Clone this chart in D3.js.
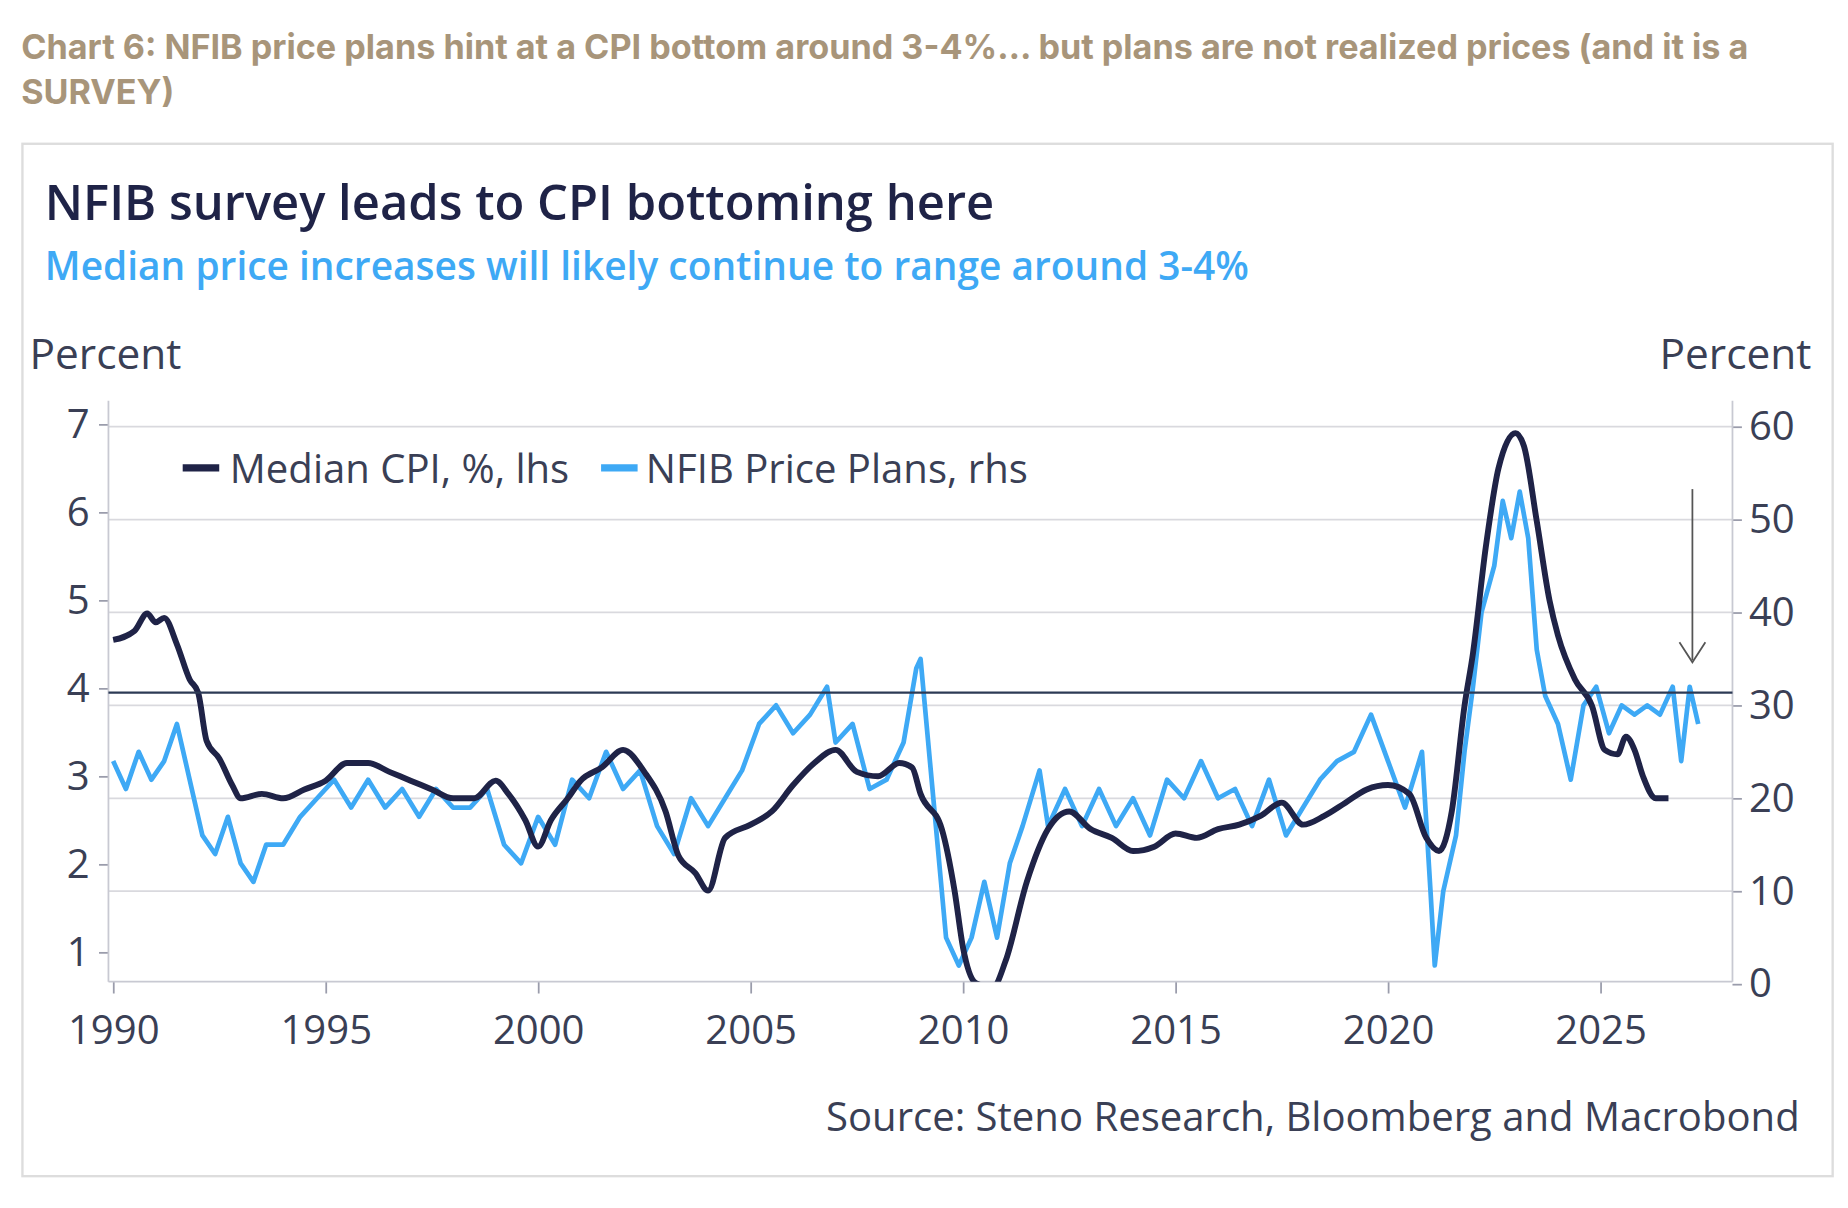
<!DOCTYPE html>
<html><head><meta charset="utf-8">
<script src="https://cdn.jsdelivr.net/npm/d3@7"></script>
<style>body{margin:0;background:#fff}</style>
</head><body>
<svg id="c" width="1848" height="1208" viewBox="0 0 1568 1025"></svg>
<script>
// Median CPI (lhs): [year, value]
var cpiYears = [1990,1990.5,1990.8,1991,1991.2,1991.5,1991.8,1992,1992.2,1992.5,1992.8,1993,1993.5,1994,1994.5,1995,1995.5,1996,1996.5,1997,1997.5,1998,1998.5,1999,1999.3,1999.7,2000,2000.3,2000.7,2001,2001.5,2002,2002.5,2003,2003.3,2003.7,2004,2004.4,2005,2005.5,2006,2006.5,2007,2007.5,2008,2008.5,2008.8,2009,2009.5,2009.8,2010,2010.3,2010.7,2011,2011.5,2012,2012.5,2013,2013.5,2014,2014.5,2015,2015.5,2016,2016.5,2017,2017.5,2018,2018.5,2019,2019.5,2020,2020.5,2020.9,2021.2,2021.5,2021.8,2022,2022.3,2022.6,2023,2023.2,2023.5,2023.8,2024,2024.4,2024.8,2025.1,2025.4,2025.6,2025.8,2026,2026.3,2026.6];
var cpiVals = [4.55,4.65,4.85,4.75,4.8,4.5,4.1,3.95,3.4,3.2,2.9,2.75,2.8,2.75,2.85,2.95,3.15,3.15,3.05,2.95,2.85,2.75,2.75,2.95,2.8,2.5,2.2,2.5,2.75,2.95,3.1,3.3,3.05,2.6,2.1,1.9,1.7,2.3,2.45,2.6,2.9,3.15,3.3,3.05,3.0,3.15,3.1,2.8,2.4,1.7,1.05,0.65,0.6,0.9,1.8,2.4,2.6,2.4,2.3,2.15,2.2,2.35,2.3,2.4,2.45,2.55,2.7,2.45,2.55,2.7,2.85,2.9,2.8,2.3,2.15,2.6,3.8,4.4,5.6,6.5,6.9,6.75,5.9,5.0,4.6,4.1,3.8,3.3,3.25,3.45,3.3,3.0,2.75,2.75];
// NFIB price plans (rhs)
var nfibYears = [1990,1990.3,1990.6,1990.9,1991.2,1991.5,1991.8,1992.1,1992.4,1992.7,1993,1993.3,1993.6,1994,1994.4,1994.8,1995.2,1995.6,1996,1996.4,1996.8,1997.2,1997.6,1998,1998.4,1998.8,1999.2,1999.6,2000,2000.4,2000.8,2001.2,2001.6,2002,2002.4,2002.8,2003.2,2003.6,2004,2004.4,2004.8,2005.2,2005.6,2006,2006.4,2006.8,2007,2007.4,2007.8,2008.2,2008.6,2008.9,2009,2009.3,2009.6,2009.9,2010.2,2010.5,2010.8,2011.1,2011.4,2011.8,2012,2012.4,2012.8,2013.2,2013.6,2014,2014.4,2014.8,2015.2,2015.6,2016,2016.4,2016.8,2017.2,2017.6,2018,2018.4,2018.8,2019.2,2019.6,2020,2020.4,2020.8,2021,2021.1,2021.3,2021.6,2021.8,2022,2022.2,2022.5,2022.7,2022.9,2023.1,2023.3,2023.5,2023.7,2024,2024.3,2024.6,2024.9,2025.2,2025.5,2025.8,2026.1,2026.4,2026.7,2026.9,2027.1,2027.3];
var nfibVals = [24,21,25,22,24,28,22,16,14,18,13,11,15,15,18,20,22,19,22,19,21,18,21,19,19,21,15,13,18,15,22,20,25,21,23,17,14,20,17,20,23,28,30,27,29,32,26,28,21,22,26,34,35,20,5,2,5,11,5,13,17,23,17,21,17,21,17,20,16,22,20,24,20,21,17,22,16,19,22,24,25,29,24,19,25,10,2,10,16,25,32,40,45,52,48,53,48,36,31,28,22,30,32,27,30,29,30,29,32,24,32,28];
var lhsTicks = [1,2,3,4,5,6,7];
var rhsTicks = [0,10,20,30,40,50,60];
var yearTicks = [1990,1995,2000,2005,2010,2015,2020,2025];

var svg = d3.select("#c");
var dark = "#1f2347", blue = "#3ea9f5", txt = "#3a3f55";
var font = "'Open Sans', sans-serif";

svg.append("text").attr("x",18).attr("y",50).attr("font-family","Inter, sans-serif").attr("font-weight",700)
  .attr("font-size",29).attr("fill","#a8957a").text("Chart 6: NFIB price plans hint at a CPI bottom around 3-4%… but plans are not realized prices (and it is a");
svg.append("text").attr("x",18).attr("y",88).attr("font-family","Inter, sans-serif").attr("font-weight",700)
  .attr("font-size",29).attr("fill","#a8957a").text("SURVEY)");
svg.append("rect").attr("x",19).attr("y",122).attr("width",1536).attr("height",876)
  .attr("fill","none").attr("stroke","#dddddd").attr("stroke-width",2);

svg.append("text").attr("x",38).attr("y",187).attr("font-family",font).attr("font-weight",600)
  .attr("font-size",41.5).attr("fill","#1f2347").text("NFIB survey leads to CPI bottoming here");
svg.append("text").attr("x",38).attr("y",238).attr("font-family",font).attr("font-weight",600)
  .attr("font-size",33).attr("fill",blue).text("Median price increases will likely continue to range around 3-4%");
svg.append("text").attr("x",25).attr("y",313).attr("font-family",font).attr("font-size",36).attr("fill",txt).text("Percent");
svg.append("text").attr("x",1537).attr("y",313).attr("text-anchor","end").attr("font-family",font).attr("font-size",36).attr("fill",txt).text("Percent");

var x = d3.scaleLinear().domain([1990,2025]).range([96,1358]);
var yL = d3.scaleLinear().domain([1,7]).range([808,360]);
var yR = d3.scaleLinear().domain([0,60]).range([835,362]);
var left = 92, right = 1470, bottom = 833;

// gridlines from rhs ticks
svg.append("g").selectAll("line").data(rhsTicks.slice(1)).join("line")
  .attr("x1",left).attr("x2",right).attr("y1",d=>yR(d)).attr("y2",d=>yR(d))
  .attr("stroke","#d9d9de").attr("stroke-width",1.5);

var axL = svg.append("g").attr("transform","translate("+left+",0)")
  .call(d3.axisLeft(yL).tickValues(lhsTicks).tickFormat(d3.format("d")).tickSize(8).tickPadding(8));
var axR = svg.append("g").attr("transform","translate("+right+",0)")
  .call(d3.axisRight(yR).tickValues(rhsTicks).tickSize(8).tickPadding(6));
var axB = svg.append("g").attr("transform","translate(0,"+bottom+")")
  .call(d3.axisBottom(x).tickValues(yearTicks).tickFormat(d3.format("d")).tickSize(10).tickPadding(12));
[axL,axR,axB].forEach(function(a){
  a.selectAll("text").attr("font-family",font).attr("font-size",34).attr("fill",txt);
  a.selectAll("line").attr("stroke","#9a9cab").attr("stroke-width",1.5);
  a.select(".domain").remove();
});
axB.selectAll("text").attr("dy","0.9em");
svg.append("line").attr("x1",left).attr("x2",left).attr("y1",340).attr("y2",bottom).attr("stroke","#c8c9d2").attr("stroke-width",1.5);
svg.append("line").attr("x1",right).attr("x2",right).attr("y1",340).attr("y2",bottom).attr("stroke","#c8c9d2").attr("stroke-width",1.5);
svg.append("line").attr("x1",left).attr("x2",right).attr("y1",bottom).attr("y2",bottom).attr("stroke","#c8c9d2").attr("stroke-width",1.5);

svg.append("clipPath").attr("id","pc").append("rect").attr("x",left).attr("y",330).attr("width",right-left).attr("height",bottom-330);
var plot = svg.append("g").attr("clip-path","url(#pc)");

var nfib = nfibYears.map((d,i)=>[d,nfibVals[i]]);
var cpi = cpiYears.map((d,i)=>[d,cpiVals[i]]);
plot.append("path").datum(nfib).attr("fill","none").attr("stroke",blue).attr("stroke-width",4).attr("stroke-linejoin","round")
  .attr("d",d3.line().x(d=>x(d[0])).y(d=>yR(d[1])));
plot.append("path").datum(cpi).attr("fill","none").attr("stroke",dark).attr("stroke-width",5).attr("stroke-linejoin","round")
  .attr("d",d3.line().x(d=>x(d[0])).y(d=>yL(d[1])).curve(d3.curveMonotoneX));

// 4% reference line
svg.append("line").attr("x1",left).attr("x2",right).attr("y1",yL(3.95)).attr("y2",yL(3.95)).attr("stroke","#2c3a55").attr("stroke-width",2);

// arrow
svg.append("line").attr("x1",1436).attr("x2",1436).attr("y1",415).attr("y2",560).attr("stroke","#555").attr("stroke-width",1.5);
svg.append("path").attr("d","M1425,545 L1436,562 L1447,545").attr("fill","none").attr("stroke","#555").attr("stroke-width",1.5);

// legend
var lg = svg.append("g").attr("font-family",font).attr("font-size",34).attr("fill",txt);
lg.append("line").attr("x1",155).attr("x2",186).attr("y1",397).attr("y2",397).attr("stroke",dark).attr("stroke-width",6);
lg.append("text").attr("x",195).attr("y",410).text("Median CPI, %, lhs");
lg.append("line").attr("x1",510).attr("x2",541).attr("y1",397).attr("y2",397).attr("stroke",blue).attr("stroke-width",6);
lg.append("text").attr("x",548).attr("y",410).text("NFIB Price Plans, rhs");

svg.append("text").attr("x",1527).attr("y",960).attr("text-anchor","end").attr("font-family",font)
  .attr("font-size",34).attr("fill",txt).text("Source: Steno Research, Bloomberg and Macrobond");
</script>
</body></html>
